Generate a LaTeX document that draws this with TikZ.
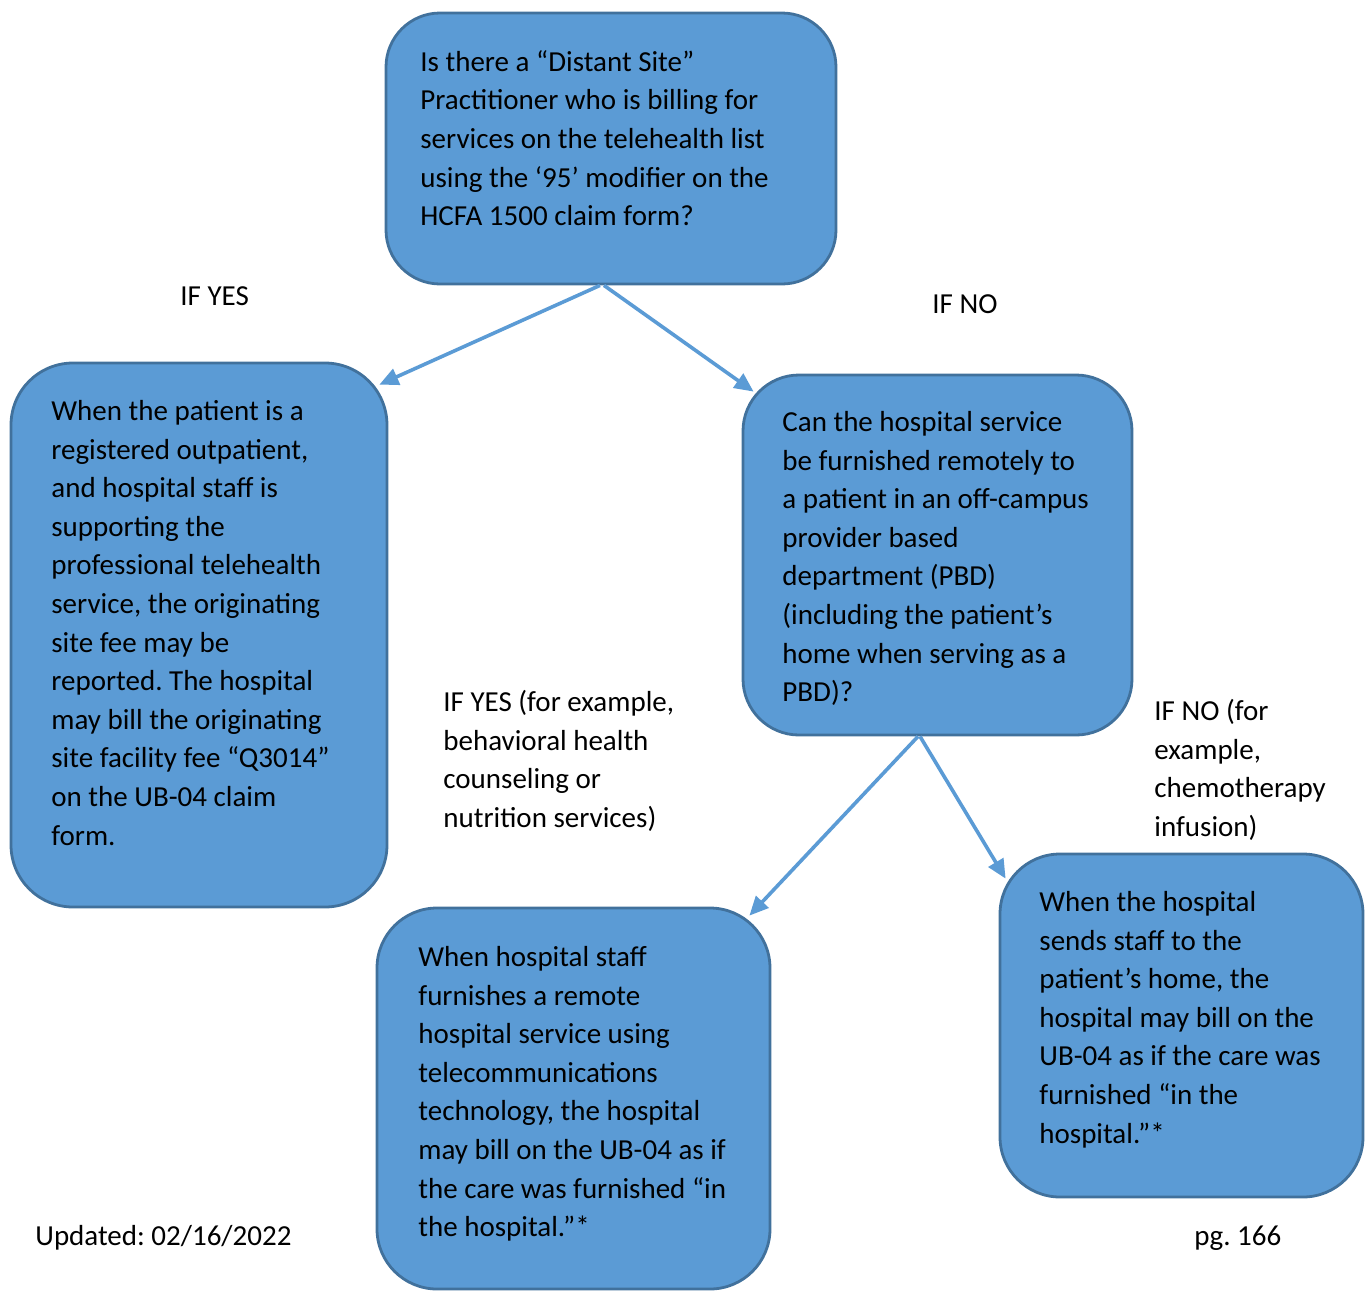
\documentclass[tikz,border=0pt]{standalone}
\usepackage{fontspec}
\setmainfont{Carlito}
\frenchspacing
\usetikzlibrary{arrows.meta}
\definecolor{boxfill}{HTML}{5B9BD5}
\definecolor{boxline}{HTML}{41719C}
\definecolor{arrowc}{HTML}{5B9BD5}
\begin{document}
\begin{tikzpicture}[x=0.5pt,y=-0.5pt,
  box/.style={draw=boxline, fill=boxfill, line width=1.4pt, inner sep=0pt},
  txt/.style={anchor=north west, inner sep=0pt, align=left, text=black,
    font=\fontsize{14.5pt}{19.3pt}\selectfont\frenchspacing},
  lbl/.style={anchor=west, inner sep=0pt, align=left, text=black,
    font=\fontsize{14.5pt}{19.3pt}\selectfont\frenchspacing},
  conn/.style={draw=arrowc, line width=1.8pt, -{Triangle[length=9.5pt,width=8.5pt]}}]
\useasboundingbox (0,0) rectangle (1370,1291);
% boxes
\node[box, rounded corners=27pt, minimum width=225pt, minimum height=135.5pt] (b0) at (611,148.5) {};
\node[box, rounded corners=31pt, minimum width=188pt, minimum height=272pt] (b1) at (199,635) {};
\node[box, rounded corners=28pt, minimum width=194.5pt, minimum height=180pt] (b2) at (937.5,555) {};
\node[box, rounded corners=30pt, minimum width=196.5pt, minimum height=190.5pt] (b3) at (573.5,1098.5) {};
\node[box, rounded corners=30pt, minimum width=181.5pt, minimum height=171.5pt] (b4) at (1181.5,1025.5) {};
% box texts
\node[txt] (t0) at (420,50) {Is there a “Distant Site”\\Practitioner who is billing for\\services on the telehealth list\\using the ‘95’ modifier on the\\HCFA 1500 claim form?};
\node[txt] (t1) at (51,400) {When the patient is a\\registered outpatient,\\and hospital staff is\\supporting the\\professional telehealth\\service, the originating\\site fee may be\\reported. The hospital\\may bill the originating\\site facility fee “Q3014”\\on the UB-04 claim\\form.};
\node[txt] (t2) at (782,411) {Can the hospital service\\be furnished remotely to\\a patient in an off-campus\\provider based\\department (PBD)\\(including the patient’s\\home when serving as a\\PBD)?};
\node[txt] (t3) at (418,946) {When hospital staff\\furnishes a remote\\hospital service using\\telecommunications\\technology, the hospital\\may bill on the UB-04 as if\\the care was furnished “in\\the hospital.”*};
\node[txt] (t4) at (1039,891) {When the hospital\\sends staff to the\\patient’s home, the\\hospital may bill on the\\UB-04 as if the care was\\furnished “in the\\hospital.”*};
% labels
\node[lbl] (l1) at (180,296) {IF YES};
\node[lbl] (l2) at (932,304) {IF NO};
\node[txt] (l3) at (443,690) {IF YES (for example,\\behavioral health\\counseling or\\nutrition services)};
\node[txt] (l4) at (1154,699) {IF NO (for\\example,\\chemotherapy\\infusion)};
\node[lbl] (l5) at (35,1238) {Updated: 02/16/2022};
\node[lbl] (l6) at (1194,1238) {pg. 166};
% connectors
\draw[conn] ([xshift=-5.5pt]b0.south) -- ([xshift=-4.5pt,yshift=-11.5pt]b1.north east);
\draw[conn] ([xshift=-3.5pt]b0.south) -- ([xshift=6pt,yshift=-9pt]b2.north west);
\draw[conn] ([xshift=-9.75pt]b2.south) -- ([xshift=-11pt,yshift=-4.5pt]b3.north east);
\draw[conn] ([xshift=-8.75pt]b2.south) -- ([xshift=3.5pt,yshift=-13pt]b4.north west);
\end{tikzpicture}
\end{document}
